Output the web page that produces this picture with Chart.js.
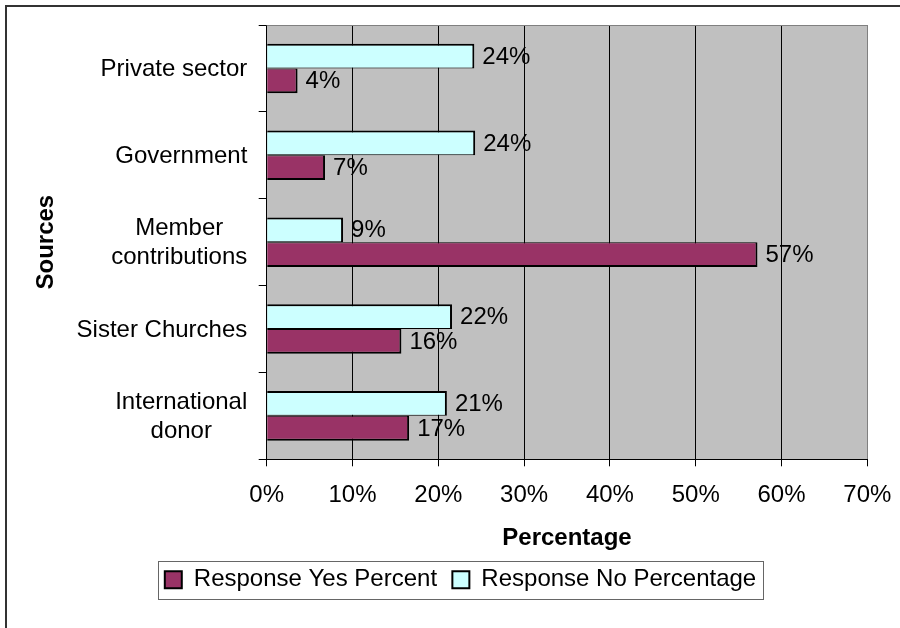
<!DOCTYPE html>
<html>
<head>
<meta charset="utf-8">
<script src="https://cdn.jsdelivr.net/npm/chart.js@4/dist/chart.umd.min.js"></script>
<style>
  html, body { margin: 0; padding: 0; background: #fff; }
  #wrap { width: 900px; height: 628px; position: relative; }
</style>
</head>
<body>
<div id="wrap"><canvas id="c" width="900" height="628"></canvas></div>
<script>
// ---- Data ----
const categories = [
  ["Private sector"],
  ["Government"],
  ["Member", "contributions"],
  ["Sister Churches"],
  ["International", "donor"]
];
const responseNo  = [24.2, 24.3, 8.9, 21.6, 21.0];
const responseYes = [3.6, 6.8, 57.2, 15.7, 16.6];
const seriesNames = ["Response No Percentage", "Response Yes Percent"];
const xTicks = [0, 10, 20, 30, 40, 50, 60, 70];
const axisTitles = { x: "Percentage", y: "Sources" };

const FONT = "'Liberation Sans', Arial, sans-serif";
Chart.defaults.color = '#000';
Chart.defaults.font.family = FONT;
Chart.defaults.font.size = 24;

const PLOT_LEFT = 266.7;
const PAD_LEFT = 53.7;

const framePlugin = {
  id: 'framePlugin',
  beforeDraw(chart) {
    const ctx = chart.ctx;
    const a = chart.chartArea;
    ctx.save();
    ctx.fillStyle = '#fff';
    ctx.fillRect(0, 0, chart.width, chart.height);
    ctx.strokeStyle = '#333';
    ctx.lineWidth = 2;
    ctx.strokeRect(6, 6, chart.width + 40, chart.height + 40);
    ctx.fillStyle = '#c0c0c0';
    ctx.fillRect(a.left, a.top, a.right - a.left, a.bottom - a.top);
    ctx.restore();
  },
  afterDatasetsDraw(chart) {
    const ctx = chart.ctx;
    const a = chart.chartArea;
    ctx.save();
    // plot top border
    ctx.strokeStyle = '#808080';
    ctx.lineWidth = 1;
    ctx.beginPath();
    ctx.moveTo(a.left, a.top + 0.5);
    ctx.lineTo(a.right, a.top + 0.5);
    ctx.stroke();
    // data labels
    ctx.fillStyle = '#000';
    ctx.font = '24px ' + FONT;
    ctx.textAlign = 'left';
    ctx.textBaseline = 'middle';
    chart.data.datasets.forEach((ds, di) => {
      const meta = chart.getDatasetMeta(di);
      meta.data.forEach((el, i) => {
        ctx.fillText(Math.round(ds.data[i]) + '%', el.x + 8, el.y + 1);
      });
    });
    // category labels (multi-line centered, block right aligned)
    const ys = chart.scales.y;
    const lh = 29;
    categories.forEach((lines, i) => {
      const cy = ys.getPixelForTick(i);
      let maxW = 0;
      lines.forEach(t => { maxW = Math.max(maxW, ctx.measureText(t).width); });
      const cx = 247.3 - maxW / 2;
      ctx.textAlign = 'center';
      lines.forEach((t, k) => {
        const y = cy + (k - (lines.length - 1) / 2) * lh + 1;
        ctx.fillText(t, cx, y);
      });
    });
    // y axis title
    ctx.font = 'bold 24px ' + FONT;
    ctx.translate(46.5, (a.top + a.bottom) / 2);
    ctx.rotate(-Math.PI / 2);
    ctx.textAlign = 'center';
    ctx.fillText(axisTitles.y, 0, 0);
    ctx.restore();
  },
  afterDraw(chart) {
    const lg = chart.legend;
    if (!lg || !lg.legendHitBoxes || !lg.legendHitBoxes.length) return;
    const hb = lg.legendHitBoxes;
    const first = hb[0], last = hb[hb.length - 1];
    const cy = first.top + first.height / 2;
    const ctx = chart.ctx;
    ctx.save();
    ctx.strokeStyle = '#666';
    ctx.lineWidth = 1;
    const l = Math.round(first.left - 7) + 0.5;
    const r = Math.round(last.left + last.width + 7) + 0.5;
    const t = Math.round(cy - 19) + 0.5;
    const b = Math.round(cy + 19) + 0.5;
    ctx.strokeRect(l, t, r - l, b - t);
    ctx.restore();
  }
};

new Chart(document.getElementById('c'), {
  type: 'bar',
  data: {
    labels: categories,
    datasets: [
      {
        label: seriesNames[0],
        data: responseNo,
        backgroundColor: '#ccffff',
        borderColor: '#000',
        borderWidth: { top: 2, bottom: 1, right: 2, left: 0 },
        borderSkipped: false
      },
      {
        label: seriesNames[1],
        data: responseYes,
        backgroundColor: '#993366',
        borderColor: '#000',
        borderWidth: { top: 1, bottom: 2, right: 2, left: 0 },
        borderSkipped: false
      }
    ]
  },
  options: {
    indexAxis: 'y',
    responsive: false,
    animation: false,
    devicePixelRatio: 1,
    categoryPercentage: 0.57,
    barPercentage: 1,
    layout: { padding: { top: 25, right: 900 - 867.3, left: PAD_LEFT, bottom: 26.3 } },
    plugins: {
      legend: {
        position: 'bottom',
        reverse: true,
        labels: {
          boxWidth: 17,
          boxHeight: 17,
          padding: 15.3,
          color: '#000',
          font: { size: 24, family: FONT },
          generateLabels(chart) {
            const items = Chart.defaults.plugins.legend.labels.generateLabels(chart);
            items.forEach(it => { it.lineWidth = 2; it.strokeStyle = '#000'; });
            return items;
          }
        }
      },
      tooltip: { enabled: false }
    },
    scales: {
      x: {
        type: 'linear',
        min: 0,
        max: 70,
        afterBuildTicks(scale) { scale.ticks = xTicks.map(v => ({ value: v })); },
        afterFit(scale) {
          scale.height = 93.1;
          scale.paddingLeft = 0;
          scale.paddingRight = 0;
        },
        ticks: {
          padding: 14.3,
          color: '#000',
          font: { size: 24, family: FONT },
          callback: v => v + '%'
        },
        grid: {
          color: ctx => (ctx.tick && ctx.tick.value === 70) ? '#808080' : '#000',
          tickColor: '#000',
          tickLength: 7,
          lineWidth: 1
        },
        border: { display: true, color: '#000', width: 1 },
        title: {
          display: true,
          text: axisTitles.x,
          color: '#000',
          font: { size: 24, weight: 'bold', family: FONT },
          padding: { top: 0, bottom: 0 }
        }
      },
      y: {
        type: 'category',
        afterFit(scale) {
          scale.width = PLOT_LEFT - PAD_LEFT;
          scale.paddingTop = 0;
          scale.paddingBottom = 0;
        },
        ticks: { display: false },
        grid: {
          offset: true,
          drawOnChartArea: false,
          drawTicks: true,
          tickLength: 8,
          color: '#000',
          tickColor: '#000'
        },
        border: { display: true, color: '#000', width: 1 }
      }
    }
  },
  plugins: [framePlugin]
});
</script>
</body>
</html>
